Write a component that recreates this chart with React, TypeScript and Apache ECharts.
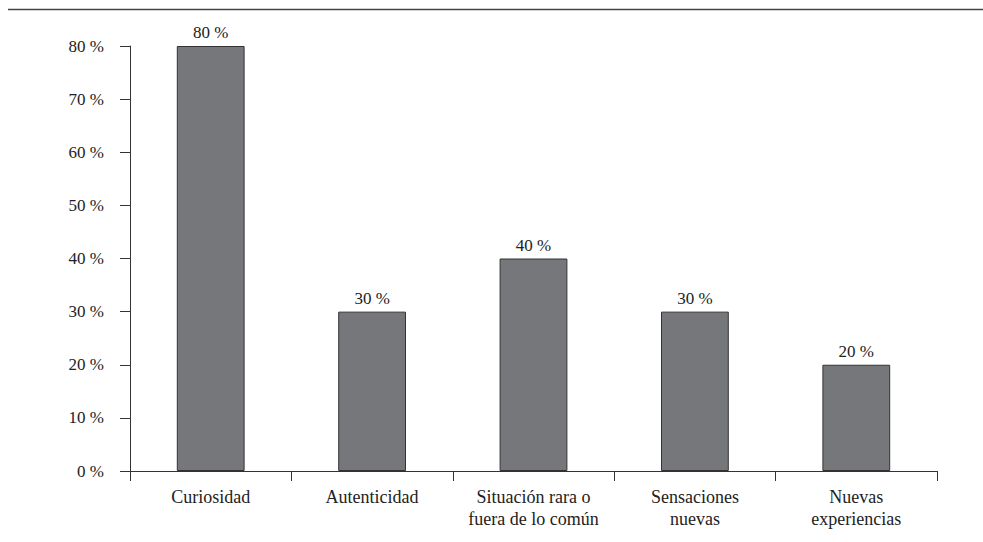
import React, { useEffect, useRef } from "react";
import * as echarts from "echarts";

const categories = [
  "Curiosidad",
  "Autenticidad",
  "Situación rara o\nfuera de lo común",
  "Sensaciones\nnuevas",
  "Nuevas\nexperiencias",
];
const values = [80, 30, 40, 30, 20];
const yTicks = { min: 0, max: 80, interval: 10 };

const FONT = "Liberation Serif";

export default function App() {
  const ref = useRef<HTMLDivElement>(null);
  useEffect(() => {
    if (!ref.current) return;
    const chart = echarts.init(ref.current, undefined, { renderer: "svg" });
    chart.setOption({
      animation: false,
      backgroundColor: "#ffffff",
      textStyle: { fontFamily: FONT },
      grid: { left: 130, right: 46, top: 46, bottom: 71, containLabel: false },
      graphic: [
        {
          type: "line",
          shape: { x1: 8, y1: 9.5, x2: 983, y2: 9.5 },
          style: { stroke: "#444444", lineWidth: 1.5 },
        },
      ],
      xAxis: {
        type: "category",
        data: categories,
        boundaryGap: true,
        axisLine: { show: true, lineStyle: { color: "#333333", width: 1 } },
        axisTick: { show: true, length: 10, alignWithLabel: false, lineStyle: { color: "#333333" } },
        axisLabel: {
          interval: 0,
          margin: 15,
          color: "#222222",
          fontFamily: FONT,
          fontSize: 18,
          lineHeight: 22,
          align: "center",
        },
        splitLine: { show: false },
      },
      yAxis: {
        type: "value",
        min: yTicks.min,
        max: yTicks.max,
        interval: yTicks.interval,
        axisLine: { show: true, lineStyle: { color: "#333333", width: 1 } },
        axisTick: { show: true, length: 10, lineStyle: { color: "#333333" } },
        axisLabel: {
          margin: 26,
          color: "#222222",
          fontFamily: FONT,
          fontSize: 17,
          formatter: (v: number) => `${v} %`,
        },
        splitLine: { show: false },
      },
      series: [
        {
          type: "bar",
          data: values,
          barWidth: "42%",
          itemStyle: { color: "#76777b", borderColor: "#333333", borderWidth: 1 },
          label: {
            show: true,
            position: "top",
            distance: 5,
            color: "#222222",
            fontFamily: FONT,
            fontSize: 17,
            formatter: (p: any) => `${p.value} %`,
          },
        },
      ],
    });
    return () => chart.dispose();
  }, []);
  return (
    <div
      ref={ref}
      style={{ position: "fixed", left: 0, top: 0, width: 983, height: 542, background: "#fff" }}
    />
  );
}
